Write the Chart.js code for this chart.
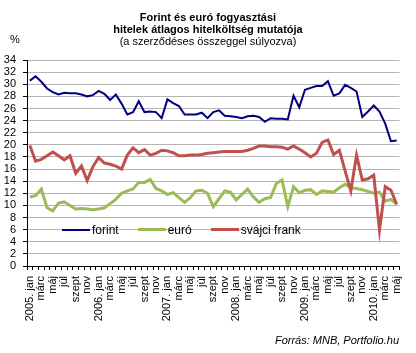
<!DOCTYPE html>
<html>
<head>
<meta charset="utf-8">
<script src="https://cdn.jsdelivr.net/npm/chart.js@4.4.0/dist/chart.umd.min.js"></script>
<style>
  body { margin: 0; background: #fff; font-family: "Liberation Sans", Arial, sans-serif; color: #000; }
  #wrap { position: relative; width: 416px; height: 353px; }
  #chart { position: absolute; left: 0; top: 0; }
  .title { position: absolute; left: 0; top: 11px; width: 416px; text-align: center; font-size: 11px; line-height: 12px; }
  .title b { font-weight: bold; }
  .unit { position: absolute; left: 10px; top: 33px; font-size: 11px; }
  .source { position: absolute; right: 17px; top: 334px; font-size: 11px; font-style: italic; }
  #legend { position: absolute; left: 62px; top: 222px; display: flex; align-items: center; font-size: 12px; height: 15px; }
  #legend .item { display: flex; align-items: center; margin-right: 19px; }
  #legend .sample { display: inline-block; width: 28px; margin-right: 2px; }
</style>
</head>
<body>
<div id="wrap">
  <canvas id="chart" width="416" height="353"></canvas>
  <div class="title"><b>Forint és euró fogyasztási</b><br><b>hitelek átlagos hitelköltség mutatója</b><br>(a szerződéses összeggel súlyozva)</div>
  <div class="unit">%</div>
  <div id="legend"></div>
  <div class="source">Forrás: MNB, Portfolio.hu</div>
</div>
<script>
const years  = [2005, 2006, 2007, 2008, 2009, 2010];
const months = ["jan", "febr", "márc", "ápr", "máj", "jún", "júl", "aug", "szept", "okt", "nov", "dec"];
const monthCount = 65; // 2005. jan - 2010. máj

const categories = [];
years.forEach(yr => {
    months.forEach((m, i) => {
        if (categories.length < monthCount) {
            categories.push(i === 0 ? `${yr}. ${m}` : m);
        }
    });
});

const yTicks = [0, 2, 4, 6, 8, 10, 12, 14, 16, 18, 20, 22, 24, 26, 28, 30, 32, 34];

const forint = [
    30.6, 31.3, 30.4, 29.3, 28.7, 28.3, 28.6, 28.5, 28.5, 28.3, 28.0, 28.2,
    28.9, 28.4, 27.4, 28.3, 26.8, 25.0, 25.4, 27.2, 25.4, 25.5, 25.4, 24.4,
    27.5, 26.9, 26.4, 25.0, 25.0, 25.0, 25.3, 24.4, 25.4, 25.7, 24.8, 24.7,
    24.6, 24.4, 24.7, 24.8, 24.6, 23.8, 24.4, 24.3, 24.3, 24.2, 28.1, 26.2,
    29.1, 29.4, 29.7, 29.7, 30.5, 28.1, 28.5, 29.9, 29.4, 28.8, 24.6, 25.5,
    26.5, 25.5, 23.5, 20.6, 20.7
];
const euro = [
    11.4, 11.6, 12.7, 9.6, 9.1, 10.4, 10.6, 10.0, 9.4, 9.5, 9.4, 9.3,
    9.4, 9.6, 10.3, 11.0, 12.0, 12.4, 12.7, 13.8, 13.8, 14.3, 12.8, 12.4,
    11.8, 12.1, 11.3, 10.5, 11.3, 12.4, 12.5, 12.0, 9.8, 11.1, 12.4, 12.2,
    10.9, 11.8, 12.7, 11.4, 10.5, 11.1, 11.3, 13.6, 14.2, 9.8, 13.1, 12.1,
    12.5, 12.6, 11.8, 12.4, 12.3, 12.2, 12.9, 13.5, 12.9, 12.8, 12.6, 12.3,
    12.0, 12.2, 10.7, 11.0, 10.2
];
const frank = [
    19.9, 17.3, 17.6, 18.2, 18.8, 18.2, 17.5, 18.2, 15.3, 16.5, 14.1, 16.4,
    17.9, 17.0, 16.8, 16.5, 16.0, 18.3, 19.5, 18.7, 19.2, 18.3, 18.6, 19.1,
    19.0, 18.7, 18.2, 18.2, 18.3, 18.3, 18.4, 18.6, 18.7, 18.8, 18.9, 18.9,
    18.9, 18.9, 19.1, 19.4, 19.8, 19.8, 19.7, 19.7, 19.6, 19.3, 19.8, 19.3,
    18.7, 18.0, 18.6, 20.4, 20.8, 18.4, 19.1, 15.7, 12.4, 18.3, 14.2, 14.4,
    15.0, 5.9, 13.1, 12.5, 10.2
];

const seriesNames  = ["forint", "euró", "svájci frank"];
const seriesColors = ["#000080", "#9bbb59", "#c0504d"];
const seriesWidths = [2, 3, 3];
const seriesData   = [forint, euro, frank];
const seriesOrder  = [1, 2, 0];

const fontFamily = '"Liberation Sans", Arial, sans-serif';

const ctx = document.getElementById("chart");

const chart = new Chart(ctx, {
    type: "line",
    data: {
        labels: categories,
        datasets: seriesNames.map((name, i) => ({
            label: name,
            data: seriesData[i],
            borderColor: seriesColors[i],
            backgroundColor: seriesColors[i],
            borderWidth: seriesWidths[i],
            pointRadius: 0,
            tension: 0,
            order: seriesOrder[i],
        }))
    },
    options: {
        responsive: false,
        animation: false,
        devicePixelRatio: 1,
        layout: { padding: { top: 60, right: 16, left: 0, bottom: 0 } },
        plugins: {
            legend: { display: false },
            title: { display: false },
            tooltip: { enabled: false },
        },
        scales: {
            x: {
                type: "category",
                offset: true,
                afterFit: (s) => { s.height = 87; },
                border: { color: "#000", width: 1 },
                grid: {
                    offset: true,
                    drawOnChartArea: false,
                    drawTicks: true,
                    tickLength: 4,
                    color: "#000",
                },
                ticks: {
                    autoSkip: false,
                    minRotation: 90,
                    maxRotation: 90,
                    padding: 6,
                    color: "#000",
                    font: { family: fontFamily, size: 11 },
                    callback: (val, idx) => idx % 2 === 0 ? categories[idx] : "",
                },
            },
            y: {
                min: 0,
                max: 34,
                afterFit: (s) => { s.width = 27; },
                afterBuildTicks: (s) => { s.ticks = yTicks.map(v => ({ value: v })); },
                border: { color: "#000", width: 1 },
                grid: {
                    color: (c) => c.tick && c.tick.value === 0 ? "rgba(0,0,0,0)" : "#b4b4b4",
                    borderDash: [3, 2],
                    tickColor: "#000",
                    tickBorderDash: [],
                    tickLength: 4,
                },
                ticks: {
                    autoSkip: false,
                    padding: 7,
                    color: "#000",
                    font: { family: fontFamily, size: 11 },
                },
            },
        },
    },
});

// legend as plain html, built from the series arrays
const legend = document.getElementById("legend");
seriesNames.forEach((name, i) => {
    const item = document.createElement("span");
    item.className = "item";
    const sample = document.createElement("span");
    sample.className = "sample";
    sample.style.height = `${seriesWidths[i]}px`;
    sample.style.background = seriesColors[i];
    item.appendChild(sample);
    item.appendChild(document.createTextNode(name));
    legend.appendChild(item);
});
</script>
</body>
</html>
